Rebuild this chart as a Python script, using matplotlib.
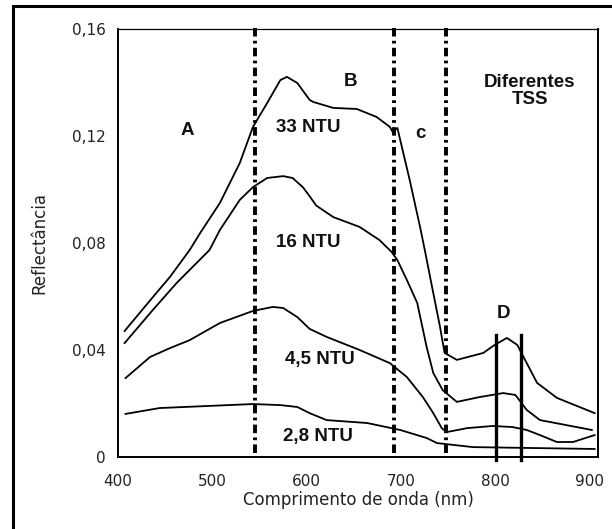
import matplotlib
matplotlib.use("Agg")
import matplotlib.pyplot as plt
from matplotlib.patches import Rectangle

# Reflectance spectra (wavelength nm, reflectance)
wl_33 = [407, 437, 455, 476, 487, 508, 529, 543, 558, 572, 579, 590, 603, 607, 628, 653,
         674, 688, 691, 696, 699, 709, 720, 725, 734, 741, 746, 759, 787, 799, 812, 823,
         833, 844, 865, 905]
r_33 = [0.0471, 0.0598, 0.0673, 0.0774, 0.0837, 0.0950, 0.1099, 0.1234, 0.1323, 0.1409,
        0.1421, 0.1398, 0.1335, 0.1327, 0.1305, 0.1301, 0.1271, 0.1234, 0.1215, 0.1230,
        0.1185, 0.1036, 0.0860, 0.0774, 0.0613, 0.0489, 0.0389, 0.0363, 0.0389, 0.0419,
        0.0445, 0.0419, 0.0351, 0.0277, 0.0221, 0.0164]

wl_16 = [407, 437, 462, 497, 508, 529, 543, 558, 575, 585, 596, 603, 610, 628, 656, 677,
         690, 696, 706, 717, 727, 734, 744, 759, 783, 808, 821, 833, 847, 902]
r_16 = [0.0426, 0.0550, 0.0650, 0.0774, 0.0849, 0.0961, 0.1009, 0.1043, 0.1050, 0.1043,
        0.1008, 0.0975, 0.0940, 0.0897, 0.0860, 0.0811, 0.0766, 0.0736, 0.0662, 0.0576,
        0.0411, 0.0314, 0.0250, 0.0206, 0.0224, 0.0239, 0.0232, 0.0176, 0.0138, 0.0101]

wl_45 = [408, 434, 455, 476, 508, 543, 564, 575, 590, 603, 621, 656, 688, 706, 723, 734,
         743, 748, 770, 797, 818, 833, 847, 865, 882, 905]
r_45 = [0.0295, 0.0374, 0.0407, 0.0437, 0.0501, 0.0546, 0.0561, 0.0557, 0.0523, 0.0479,
        0.0449, 0.0400, 0.0351, 0.0299, 0.0224, 0.0164, 0.0108, 0.0093, 0.0108, 0.0116,
        0.0112, 0.0101, 0.0082, 0.0056, 0.0056, 0.0082]

wl_28 = [408, 444, 497, 543, 572, 590, 603, 621, 664, 699, 727, 738, 776, 905]
r_28 = [0.0161, 0.0183, 0.0191, 0.0198, 0.0194, 0.0187, 0.0164, 0.0138, 0.0127, 0.0101,
        0.0071, 0.0052, 0.0037, 0.0030]

region_bounds = [545, 692, 747]   # dash-dot separators
band_d = [800, 827]                # solid lines around band D

curve_labels = ["33 NTU", "16 NTU", "4,5 NTU", "2,8 NTU"]
label_pos = [(602, 0.123), (602, 0.080), (614, 0.0363), (612, 0.0075)]
region_names = ["A", "B", "c", "D", "Diferentes\nTSS"]
region_pos = [(473, 0.1222), (646, 0.1402), (720, 0.1211), (808, 0.0538), (836, 0.137)]

x_ticks = [400, 500, 600, 700, 800, 900]
y_ticks = [0, 0.04, 0.08, 0.12, 0.16]
y_ticklabels = ["0", "0,04", "0,08", "0,12", "0,16"]

fig = plt.figure(figsize=(6.12, 5.29), dpi=100)
ax = fig.add_axes([0.1928, 0.1361, 0.7843, 0.8091])

for wl, r in [(wl_33, r_33), (wl_16, r_16), (wl_45, r_45), (wl_28, r_28)]:
    ax.plot(wl, r, color="black", lw=1.3)

for xb in region_bounds:
    ax.plot([xb, xb], [0.0015, 0.1605], color="black", lw=2.8,
            linestyle=(0, (2.2, 1.1, 0.7, 1.1)), clip_on=False)
for xb in band_d:
    ax.plot([xb, xb], [-0.001, 0.0455], color="black", lw=2.4, clip_on=False)

bold = dict(family="Liberation Sans", fontweight="bold", fontsize=13.5,
            ha="center", va="center", color="#111111")
for txt, (x, y) in zip(curve_labels, label_pos):
    ax.text(x, y, txt, **bold)
for txt, (x, y) in zip(region_names, region_pos):
    ax.text(x, y, txt, linespacing=1.0, **bold)

ax.set_xlim(400, 908.5)
ax.set_ylim(0, 0.16)
ax.set_xticks(x_ticks)
ax.set_yticks(y_ticks)
ax.set_yticklabels(y_ticklabels)
ax.tick_params(length=0, labelsize=11, labelcolor="#222222")
ax.tick_params(axis="x", pad=12)
ax.tick_params(axis="y", pad=9)
ax.set_xlabel("Comprimento de onda (nm)", fontsize=12, color="#222222", labelpad=2)
ax.set_ylabel("Reflectância", fontsize=12, color="#222222", labelpad=17)

for side in ["left", "bottom", "right"]:
    ax.spines[side].set_linewidth(1.4)
ax.spines["top"].set_linewidth(0.9)

# outer frame, cut off at the right and bottom edges like the scan
fig.add_artist(Rectangle((13 / 612, -0.1), 1.2, 1.1 - 6 / 529, transform=fig.transFigure,
                         fill=False, lw=2.2, color="black"))

plt.savefig("out.png", dpi=100)
plt.close()
